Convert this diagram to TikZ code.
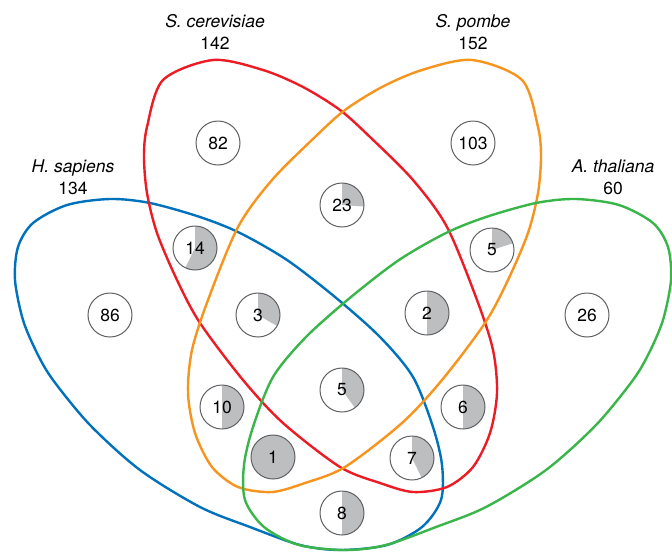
\documentclass[tikz,border=0pt]{standalone}
\usepackage{fontspec}
\setmainfont{TeX Gyre Heros}
\usepackage{xcolor}
\usepackage{tikz}
\usetikzlibrary{positioning}

\definecolor{vred}{RGB}{237,28,36}
\definecolor{vorange}{RGB}{247,148,29}
\definecolor{vblue}{RGB}{0,114,188}
\definecolor{vgreen}{RGB}{57,181,74}
\definecolor{piegray}{RGB}{188,190,192}
\definecolor{rimgray}{RGB}{96,97,100}

\begin{document}
\begin{tikzpicture}[x=1pt, y=1pt,
    every node/.style={font=\fontsize{17.5}{22}\selectfont},
    setline/.style={line width=2.4pt},
    count/.style={circle, draw=rimgray, line width=1pt, fill=white,
                  minimum size=44pt, inner sep=0pt},
    pie/.style={path picture={
        \fill[piegray] (path picture bounding box.center) -- ++(90:30pt)
            arc[start angle=90, end angle=90-#1, radius=30pt] -- cycle;}},
    species/.style={align=center}]
  \useasboundingbox (0,0) rectangle (672,-552);

  % H. sapiens
  \draw[setline, vblue] plot[smooth cycle] coordinates {
    (110,-199) (150,-203) (200,-217) (240,-233) (287,-260) (335,-297)
    (380,-337) (413,-377) (433,-427) (442,-465) (441,-500) (422,-527)
    (387,-545) (340,-550) (300,-545) (250,-527) (200,-507) (140,-470)
    (90,-425) (53,-380) (37,-353) (23,-320) (15,-280) (18,-247)
    (33,-223) (67,-205)};

  % S. cerevisiae
  \draw[setline, vred] plot[smooth cycle] coordinates {
    (213,-60) (263,-70) (303,-87) (340,-110) (370,-137) (413,-180)
    (447,-227) (477,-300) (493,-350) (497,-393) (490,-433) (473,-467)
    (447,-487) (413,-492) (380,-483) (340,-467) (283,-423) (243,-380)
    (200,-323) (177,-280) (157,-233) (147,-193) (144,-157) (147,-127)
    (163,-80)};

  % S. pombe
  \draw[setline, vorange] plot[smooth cycle] coordinates {
    (472,-60) (422,-70) (382,-87) (345,-110) (315,-137) (272,-180)
    (238,-227) (208,-300) (192,-350) (188,-393) (195,-433) (212,-467)
    (238,-487) (272,-492) (305,-483) (345,-467) (402,-423) (442,-380)
    (485,-323) (508,-280) (528,-233) (538,-193) (541,-157) (538,-127)
    (522,-80)};

  % A. thaliana
  \draw[setline, vgreen] plot[smooth cycle] coordinates {
    (576,-199) (536,-203) (486,-217) (446,-233) (399,-260) (351,-297)
    (306,-337) (273,-377) (253,-427) (244,-465) (245,-500) (264,-527)
    (299,-545) (346,-550) (386,-545) (436,-527) (486,-507) (546,-470)
    (596,-425) (633,-380) (649,-353) (663,-320) (671,-280) (668,-247)
    (653,-223) (619,-205)};

  % set names and sizes
  \node[species] (lblsc) at (215,-32) {\textit{S. cerevisiae}\\142};
  \node[species] (lblsp) at (473,-32) {\textit{S. pombe}\\152};
  \node[species] (lblhs) at (73,-177) {\textit{H. sapiens}\\134};
  \node[species] (lblat) at (613,-177) {\textit{A. thaliana}\\60};

  % region counts
  \node[count] (sc) at (218,-143) {82};
  \node[count] (sp) at (473,-143) {103};
  \node[count] (hs) at (110,-315) {86};
  \node[count] (at) at (587,-315) {26};
  \node[count, pie=94] (scsp) at (342,-205) {23};
  \node[count, pie=206] (hssc) at (195,-248) {14};
  \node[count, pie=72] (spat) at (492,-250) {5};
  \node[count, pie=120] (hsscsp) at (258,-315) {3};
  \node[count, pie=180] (scspat) at (427,-313) {2};
  \node[count, pie=180] (hssp) at (222,-407) {10};
  \node[count, pie=144] (all) at (342,-390) {5};
  \node[count, pie=180] (scat) at (463,-407) {6};
  \node[count, pie=360] (hsspat) at (273,-457) {1};
  \node[count, pie=154] (hsscat) at (412,-458) {7};
  \node[count, pie=180] (hsat) at (342,-513) {8};
\end{tikzpicture}
\end{document}
